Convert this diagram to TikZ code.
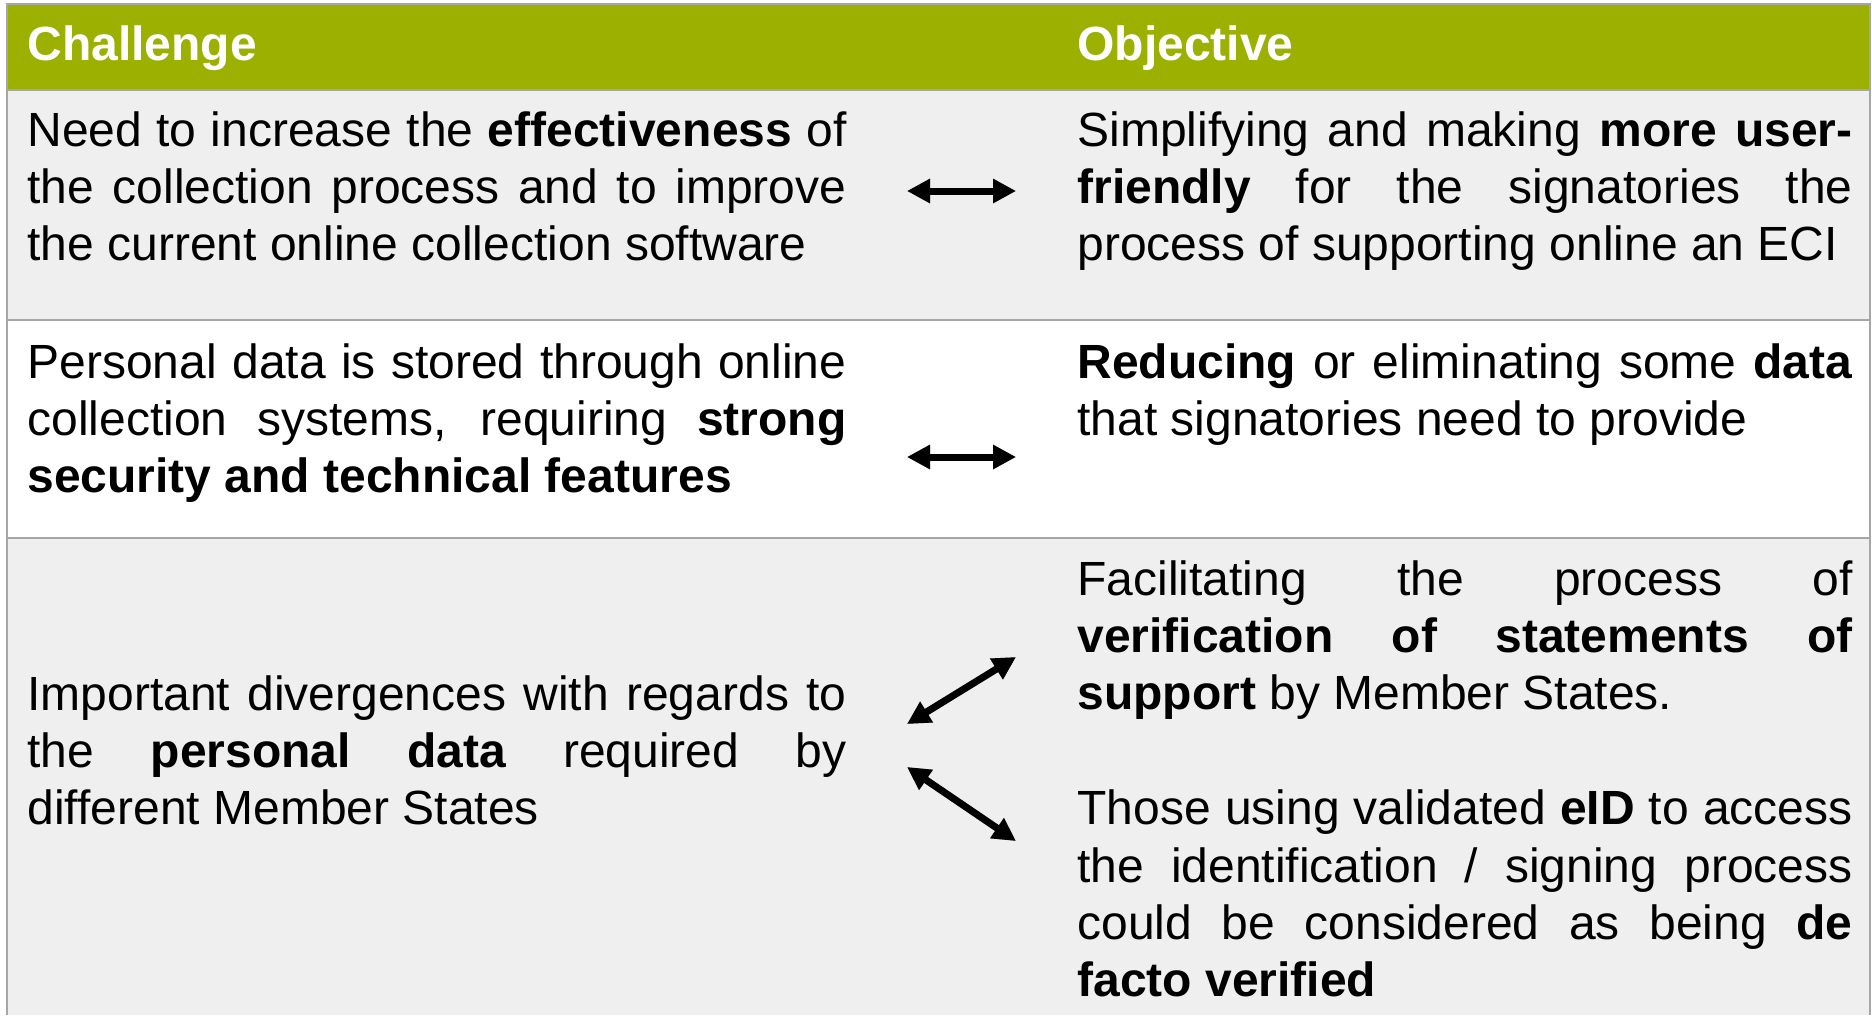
\documentclass[tikz,border=0pt]{standalone}
\usepackage{fontspec}
\setmainfont{Liberation Sans}
\usetikzlibrary{arrows.meta}
\definecolor{hdrgreen}{RGB}{156,176,2}
\definecolor{cellgray}{RGB}{239,239,239}
\definecolor{rulegray}{RGB}{166,166,166}
\definecolor{shadowgray}{RGB}{170,170,170}
\hyphenpenalty=10000
\tolerance=10000
\setlength{\parindent}{0pt}
\begin{document}
\begin{tikzpicture}[x=0.4pt,y=-0.4pt,
  bodytext/.style={font=\fontsize{19.2}{22.96}\selectfont, inner sep=0pt, anchor=base west, align=justify, text=black},
  lefttext/.style={bodytext, text width=327.6pt},
  righttext/.style={bodytext, text width=310pt},
  headtext/.style={inner sep=0pt, anchor=base west, font=\fontsize{19.2}{22.96}\selectfont\bfseries, text=white},
  biarrow/.style={{Triangle[length=9.2pt,width=9.2pt]}-{Triangle[length=9.2pt,width=9.2pt]}, line width=2.8pt, draw=black},
  arrowshadow/.style={biarrow, draw=shadowgray, shift={(2,3)}},
  rulestyle/.style={draw=rulegray, line width=0.8pt}]
\useasboundingbox (0,0) rectangle (1872,1015);
\fill[white] (0,0) rectangle (1872,1015);
% cell backgrounds
\fill[hdrgreen] (6.5,4) rectangle (1870,90);
\fill[cellgray] (6.5,90) rectangle (1870,320);
\fill[white] (6.5,320) rectangle (1870,538);
\fill[cellgray] (6.5,538) rectangle (1870,1015);
% rules
\draw[rulestyle] (6.5,1015) -- (6.5,4) -- (1870,4) -- (1870,1015);
\draw[rulestyle] (6.5,90) -- (1870,90);
\draw[rulestyle] (6.5,320) -- (1870,320);
\draw[rulestyle] (6.5,538) -- (1870,538);
% header
\node[headtext] (hchal) at (27,60) {Challenge};
\node[headtext] (hobj) at (1077,60) {Objective};
% row 1
\node[lefttext] (c1) at (27,146) {Need to increase the \textbf{effectiveness} of\linebreak the collection process and to improve\linebreak the current online collection software};
\node[righttext] (o1) at (1077,146) {Simplifying and making \textbf{more user-}\linebreak\textbf{friendly} for the signatories the\linebreak process of supporting online an ECI};
% row 2
\node[lefttext] (c2) at (27,378) {Personal data is stored through online\linebreak collection systems, requiring \textbf{strong}\linebreak\textbf{security and technical features}};
\node[righttext] (o2) at (1077,378) {\textbf{Reducing} or eliminating some \textbf{data}\linebreak that signatories need to provide};
% row 3
\node[lefttext] (c3) at (27,710) {Important divergences with regards to\linebreak the \textbf{personal data} required by\linebreak different Member States};
\node[righttext] (o3) at (1077,595) {Facilitating the process of\linebreak\textbf{verification of statements of}\linebreak\textbf{support} by Member States.\par\vspace{22.96pt}Those using validated \textbf{eID} to access\linebreak the identification / signing process\linebreak could be considered as being \textbf{de}\linebreak\textbf{facto verified}};
% arrow end points
\coordinate (a1l) at (907,191);
\coordinate (a1r) at (1016,191);
\coordinate (a2l) at (907,457);
\coordinate (a2r) at (1016,457);
\coordinate (a3l) at (907,724);
\coordinate (a3r) at (1016,657);
\coordinate (a4l) at (907,767);
\coordinate (a4r) at (1016,841);
% shadows
\draw[arrowshadow] (a1l) -- (a1r);
\draw[arrowshadow] (a2l) -- (a2r);
\draw[arrowshadow] (a3l) -- (a3r);
\draw[arrowshadow] (a4l) -- (a4r);
% arrows
\draw[biarrow] (a1l) -- (a1r);
\draw[biarrow] (a2l) -- (a2r);
\draw[biarrow] (a3l) -- (a3r);
\draw[biarrow] (a4l) -- (a4r);
\end{tikzpicture}
\end{document}
